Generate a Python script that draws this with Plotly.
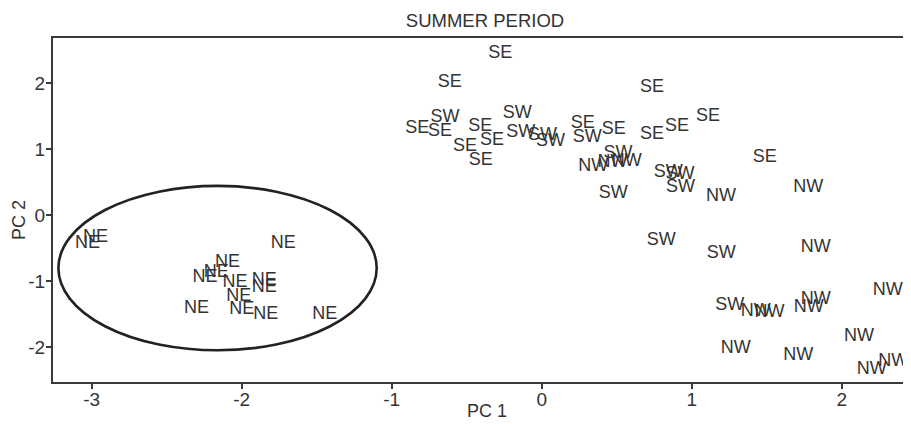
import plotly.graph_objects as go

# PCA scores, grouped by wind direction label
ne_x = [-2.975, -3.028, -1.723, -2.095, -2.170, -2.245, -2.045, -1.850, -1.850, -2.020, -2.301, -1.999, -1.839, -1.446]
ne_y = [-0.345, -0.433, -0.436, -0.724, -0.876, -0.940, -1.027, -1.000, -1.103, -1.229, -1.414, -1.432, -1.508, -1.512]

se_x = [-0.276, -0.613, -0.829, -0.678, -0.409, -0.511, -0.331, -0.406, 0.735, 0.273, 0.480, 0.735, 0.902, 1.109, 1.487]
se_y = [2.44, 2.01, 1.314, 1.27, 1.34, 1.044, 1.13, 0.83, 1.923, 1.389, 1.30, 1.215, 1.333, 1.49, 0.874]

sw_x = [-0.645, -0.163, -0.139, 0.005, 0.059, 0.303, 0.509, 0.844, 0.922, 0.925, 0.477, 0.797, 1.197, 1.253]
sw_y = [1.476, 1.538, 1.25, 1.21, 1.117, 1.18, 0.93, 0.64, 0.62, 0.41, 0.324, -0.388, -0.58, -1.376]

nw_x = [0.344, 0.472, 0.567, 1.195, 1.777, 1.827, 2.307, 1.427, 1.519, 1.780, 1.827, 2.115, 1.293, 1.711, 2.200, 2.344]
nw_y = [0.741, 0.79, 0.816, 0.286, 0.41, -0.497, -1.145, -1.456, -1.48, -1.406, -1.28, -1.835, -2.024, -2.126, -2.335, -2.214]

# ellipse around NE group (centre and semi-axes in data units)
ell_cx, ell_cy = -2.161, -0.805
ell_rx, ell_ry = 1.061, 1.245

x_ticks = [-3, -2, -1, 0, 1, 2]
y_ticks = [-2, -1, 0, 1, 2]

FONT = "Liberation Sans, Arial, sans-serif"
TXT = "#333333"
OFF = 8  # page body margin
W, H = 911 - OFF, 424 - OFF
ML, MR, MT, MB = 53 - OFF, 0, 38 - OFF, 42

fig = go.Figure()
for name, xs, ys in [("NE", ne_x, ne_y), ("SE", se_x, se_y), ("SW", sw_x, sw_y), ("NW", nw_x, nw_y)]:
    fig.add_trace(go.Scatter(
        x=xs, y=ys, mode="text", text=[name] * len(xs),
        textposition="middle center",
        textfont=dict(family=FONT, size=18, color=TXT),
        showlegend=False, hoverinfo="skip", cliponaxis=False,
    ))

fig.add_shape(type="circle", xref="x", yref="y",
              x0=ell_cx - ell_rx, x1=ell_cx + ell_rx,
              y0=ell_cy - ell_ry, y1=ell_cy + ell_ry,
              line=dict(color="#222222", width=2.6))

# axis titles as annotations (fixed positions, no auto-margin)
pw, ph = W - ML - MR, H - MT - MB
fig.add_annotation(text="PC 1", xref="paper", yref="paper",
                   x=(487 - OFF - ML) / pw, y=-(411 - OFF - (H - MB)) / ph,
                   xanchor="center", yanchor="middle", showarrow=False,
                   font=dict(family=FONT, size=18, color=TXT))
fig.add_annotation(text="PC 2", xref="paper", yref="paper",
                   x=-(ML - (19 - OFF)) / pw, y=((H - MB) - (220 - OFF)) / ph,
                   xanchor="center", yanchor="middle", showarrow=False, textangle=-90,
                   font=dict(family=FONT, size=18, color=TXT))

fig.update_layout(
    width=W, height=H,
    margin=dict(l=ML, r=MR, t=MT, b=MB, autoexpand=False),
    paper_bgcolor="white", plot_bgcolor="white",
    font=dict(family=FONT, size=18, color=TXT),
    title=dict(text="SUMMER PERIOD", x=(485 - OFF) / W, xanchor="center",
               y=1 - (21 - OFF) / H, yanchor="middle",
               font=dict(family=FONT, size=18.5, color=TXT)),
    xaxis=dict(range=[-3.258, 2.462], tickvals=x_ticks,
               ticktext=[str(v) for v in x_ticks], automargin=False,
               showgrid=False, zeroline=False,
               showline=True, linecolor="#3a3a3a", linewidth=2, mirror=True,
               ticks="outside", ticklen=5, tickcolor="#3a3a3a", tickwidth=1.5,
               ticklabelstandoff=-6,
               tickfont=dict(family=FONT, size=19, color=TXT)),
    yaxis=dict(range=[-2.53, 2.68], tickvals=y_ticks,
               ticktext=[str(v) for v in y_ticks], automargin=False,
               showgrid=False, zeroline=False,
               showline=True, linecolor="#3a3a3a", linewidth=2, mirror=False,
               ticks="outside", ticklen=5, tickcolor="#3a3a3a", tickwidth=1.5,
               ticklabelstandoff=-3,
               tickfont=dict(family=FONT, size=19, color=TXT)),
)

fig.write_html("out.html")
